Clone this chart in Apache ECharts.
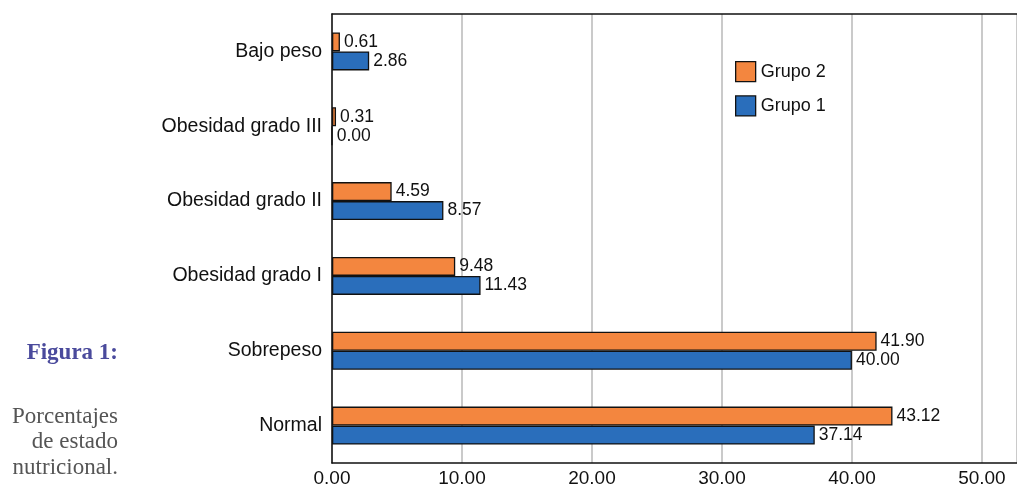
<!DOCTYPE html>
<html>
<head>
<meta charset="utf-8">
<script src="https://cdn.jsdelivr.net/npm/echarts@6/dist/echarts.min.js"></script>
<style>
  html, body { margin: 0; padding: 0; background: #fff; }
  #chart { width: 1017px; height: 490px; }
</style>
</head>
<body>
<div id="chart"></div>
<script>
// categories from bottom to top
var categories = ["Normal", "Sobrepeso", "Obesidad grado I", "Obesidad grado II", "Obesidad grado III", "Bajo peso"];
var grupo1 = [37.14, 40.00, 11.43, 8.57, 0.00, 2.86];
var grupo2 = [43.12, 41.90, 9.48, 4.59, 0.31, 0.61];
var xTicks = [0, 10, 20, 30, 40, 50];

function estado() {
  var myChart = echarts.init(document.querySelector("#chart"));
  var font = "'Liberation Sans', Arial, sans-serif";
  var serif = "'Liberation Serif', 'DejaVu Serif', serif";

  function barLabel() {
    return {
      show: true,
      position: "right",
      distance: 4,
      color: "#111",
      fontSize: 17.5,
      formatter: function (p) { return p.value.toFixed(2); }
    };
  }

  var option = {
    animation: false,
    textStyle: { fontFamily: font },
    legend: {
      orient: "vertical",
      left: 730,
      top: 56,
      itemWidth: 20,
      itemHeight: 20,
      itemGap: 13,
      icon: "rect",
      data: ["Grupo 2", "Grupo 1"],
      itemStyle: { borderColor: "#111", borderWidth: 1.3 },
      textStyle: { color: "#111", fontSize: 18, fontFamily: font }
    },
    grid: {
      left: 332,
      right: 0,
      top: 14,
      bottom: 27,
      containLabel: false
    },
    xAxis: [{
      type: "value",
      min: xTicks[0],
      max: 52.7,
      interval: 10,
      axisLine: { show: true, lineStyle: { color: "#111", width: 1.5 } },
      axisTick: { show: false },
      axisLabel: {
        color: "#111",
        fontSize: 19,
        margin: 6,
        showMaxLabel: false,
        formatter: function (v) {
          return xTicks.indexOf(v) >= 0 ? v.toFixed(2) : "";
        }
      },
      splitLine: { show: true, lineStyle: { color: "#b8b8b8", width: 1.5 } }
    }, {
      // top border line
      type: "value",
      position: "top",
      min: 0,
      max: 52.7,
      axisLine: { show: true, lineStyle: { color: "#111", width: 1.5 } },
      axisTick: { show: false },
      axisLabel: { show: false },
      splitLine: { show: false }
    }],
    yAxis: {
      type: "category",
      data: categories,
      axisLine: { show: true, lineStyle: { color: "#111", width: 1.5 } },
      axisTick: { show: false },
      axisLabel: { color: "#111", fontSize: 19.5, margin: 10 }
    },
    series: [{
      name: "Grupo 2",
      type: "bar",
      data: grupo2,
      barWidth: 19,
      barGap: "0%",
      itemStyle: { color: "#F3863F", borderColor: "#111", borderWidth: 1.3 },
      label: barLabel()
    }, {
      name: "Grupo 1",
      type: "bar",
      data: grupo1,
      barWidth: 19,
      barGap: "0%",
      itemStyle: { color: "#2A6EBB", borderColor: "#111", borderWidth: 1.3 },
      label: barLabel()
    }],
    graphic: [{
      type: "text",
      right: 1017 - 118,
      top: 342,
      style: { text: "Figura 1:", fill: "#4A4A9C", font: "bold 23px " + serif, textAlign: "right" }
    }, {
      type: "text",
      right: 1017 - 118,
      top: 404,
      style: {
        text: "Porcentajes\nde estado\nnutricional.",
        fill: "#555",
        font: "23px " + serif,
        textAlign: "right",
        lineHeight: 25.5
      }
    }]
  };

  myChart.setOption(option);
}
estado();
</script>
</body>
</html>
